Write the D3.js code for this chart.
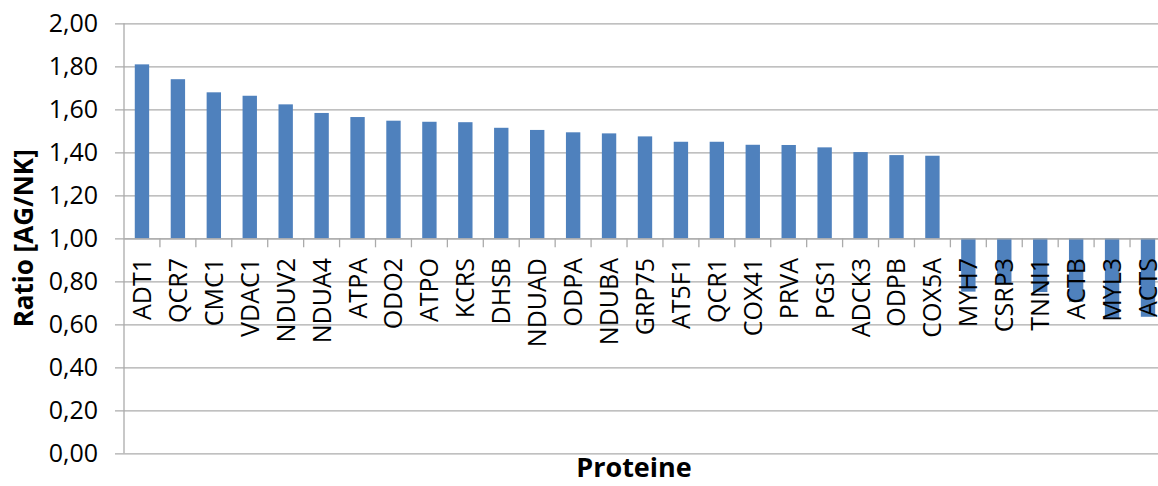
<!DOCTYPE html>
<html>
<head>
<meta charset="utf-8">
<script src="https://cdn.jsdelivr.net/npm/d3@7"></script>
<style>
  html, body { margin: 0; padding: 0; background: #fff; }
  svg { display: block; }
  text { font-family: "Open Sans", "Liberation Sans", sans-serif; fill: #000; }
</style>
</head>
<body>
<svg id="chart" width="1158" height="486"></svg>
<script>
// Protein ratios (AG/NK), sorted descending; values below 1 hang from the 1,00 baseline
const categories = ["ADT1","QCR7","CMC1","VDAC1","NDUV2","NDUA4","ATPA","ODO2","ATPO","KCRS",
  "DHSB","NDUAD","ODPA","NDUBA","GRP75","AT5F1","QCR1","COX41","PRVA","PGS1",
  "ADCK3","ODPB","COX5A","MYH7","CSRP3","TNNI1","ACTB","MYL3","ACTS"];
const ratios = [1.809,1.740,1.679,1.663,1.623,1.583,1.564,1.547,1.542,1.540,
  1.514,1.504,1.493,1.488,1.474,1.449,1.449,1.435,1.434,1.423,
  1.401,1.387,1.384,0.752,0.790,0.750,0.705,0.628,0.635];
const yTicks = [0,0.2,0.4,0.6,0.8,1.0,1.2,1.4,1.6,1.8,2.0];
const baseline = 1.0;
const yTitle = "Ratio [AG/NK]";
const xTitle = "Proteine";

const svg = d3.select("#chart");
const plotLeft = 124, plotTop = 23.3, plotBottom = 453.3;
const band = 35.93;
const plotRight = plotLeft + band * categories.length;

const x = d3.scaleBand().domain(categories).range([plotLeft, plotRight]).paddingInner(0).paddingOuter(0);
const y = d3.scaleLinear().domain([0, 2]).range([plotBottom, plotTop]);
const fmt = v => d3.format(".2f")(v).replace(".", ",");

svg.append("rect").attr("width", 1158).attr("height", 486).attr("fill", "#fff");

// horizontal gridlines + value axis
const yAxis = d3.axisLeft(y).tickValues(yTicks).tickFormat(fmt)
  .tickSize(-(plotRight - plotLeft)).tickPadding(26);
const gy = svg.append("g").attr("transform", `translate(${plotLeft},0)`).call(yAxis);
gy.select(".domain").remove();
gy.selectAll(".tick line").attr("stroke", "#ababab").attr("stroke-width", 1.3).attr("x1", -9);
gy.selectAll(".tick text").attr("font-size", 25).attr("fill", "#000");

// vertical axis line
svg.append("line").attr("x1", plotLeft).attr("x2", plotLeft).attr("y1", plotTop).attr("y2", plotBottom)
  .attr("stroke", "#ababab").attr("stroke-width", 1.3);

// bars from the 1,00 baseline
const barW = x.bandwidth() / 2.5;
svg.append("g").selectAll("rect").data(categories).join("rect")
  .attr("x", d => x(d) + (x.bandwidth() - barW) / 2)
  .attr("width", barW)
  .attr("y", (d, i) => y(Math.max(ratios[i], baseline)))
  .attr("height", (d, i) => Math.abs(y(ratios[i]) - y(baseline)))
  .attr("fill", "#4f81bd");

// category axis crossing at 1,00
const xAxis = d3.axisBottom(x).tickSize(0).tickFormat("");
const gx = svg.append("g").attr("transform", `translate(0,${y(baseline)})`).call(xAxis);
gx.select(".domain").attr("stroke", "#ababab").attr("stroke-width", 1.3);
gx.selectAll(".tick").remove();
gx.selectAll(".sep").data(categories.slice(1)).join("line")
  .attr("class", "sep")
  .attr("x1", d => x(d)).attr("x2", d => x(d))
  .attr("y1", 0).attr("y2", 9)
  .attr("stroke", "#ababab").attr("stroke-width", 1.3);

// rotated category labels
svg.append("g").selectAll("text").data(categories).join("text")
  .attr("transform", d => `translate(${x(d) + x.bandwidth() / 2},258) rotate(-90)`)
  .attr("text-anchor", "end")
  .attr("dy", "0.36em")
  .attr("font-size", 25)
  .text(d => d);

// axis titles
svg.append("text")
  .attr("transform", `translate(24,${(plotTop + plotBottom) / 2}) rotate(-90)`)
  .attr("text-anchor", "middle").attr("dy", "0.36em")
  .attr("font-size", 26).attr("font-weight", "bold")
  .text(yTitle);

svg.append("text")
  .attr("x", 634).attr("y", 477)
  .attr("text-anchor", "middle")
  .attr("font-size", 27).attr("font-weight", "bold")
  .text(xTitle);
</script>
</body>
</html>
